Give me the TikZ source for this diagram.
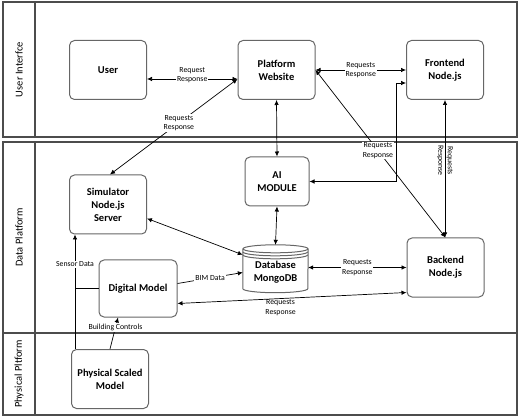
\documentclass[tikz,border=0pt]{standalone}
\usepackage{fontspec}
\setmainfont{Carlito}
\usetikzlibrary{arrows.meta}
\tikzset{
  bloc/.style={draw=black!60, line width=1pt, rounded corners=5pt, minimum width=77pt, minimum height=59pt, align=center, font=\bfseries\fontsize{10.5}{13}\selectfont},
  lien/.style={line width=0.7pt, {Latex[length=5pt,width=4.5pt]}-{Latex[length=5pt,width=4.5pt]}},
  fleche/.style={line width=0.7pt, -{Latex[length=5pt,width=4.5pt]}},
  etiq/.style={font=\fontsize{7.8}{9.5}\selectfont, align=center, fill=white, inner sep=1pt},
  couloir/.style={draw=black!70, line width=1.3pt},
  cyl/.style={draw=black!60, line width=1pt},
}
\begin{document}
\begin{tikzpicture}[x=1pt,y=-1pt]
  \useasboundingbox (0,0) rectangle (520,417);
  % couloirs
  \draw[couloir] (3,2) rectangle (517,137);
  \draw[couloir] (35,2) -- (35,137);
  \draw[couloir] (3,142) rectangle (517,415);
  \draw[couloir] (35,142) -- (35,415);
  \draw[couloir] (3,333) -- (517,333);
  \node[rotate=90, font=\fontsize{10.5}{12}\selectfont] (lui) at (19,69.5) {User Interfce};
  \node[rotate=90, font=\fontsize{10.5}{12}\selectfont] (ldata) at (19,237.5) {Data Platform};
  \node[rotate=90, font=\fontsize{10.5}{12}\selectfont] (lphys) at (19,374) {Physical Pltform};
  % blocs
  \node[bloc] (user) at (108,70) {User};
  \node[bloc] (plat) at (276.5,70) {Platform\\Website};
  \node[bloc] (front) at (445,70) {Frontend\\Node.js};
  \node[bloc] (simu) at (108,204.5) {Simulator\\Node.js\\Server};
  \node[bloc, minimum width=64pt, minimum height=49pt] (ai) at (277,181.5) {AI\\MODULE};
  \node[bloc, minimum width=78pt, minimum height=57pt] (num) at (138,288.5) {Digital Model};
  \node[bloc] (back) at (445.5,267.5) {Backend\\Node.js};
  \node[bloc] (phys) at (110,379) {Physical Scaled\\Model};
  \node[minimum width=65pt, minimum height=40pt, align=center, font=\bfseries\fontsize{10.5}{13}\selectfont] (db) at (275.5,272.5) {Database\\MongoDB};
  % cylindre
  \draw[cyl] ([yshift=3.5pt]db.north) ellipse [x radius=32.5pt, y radius=4pt];
  \draw[cyl] ([yshift=3.5pt]db.north west) -- ([yshift=4pt]db.south west) arc[start angle=180, end angle=360, x radius=32.5pt, y radius=4pt] -- ([yshift=3.5pt]db.north east);
  \draw[cyl] ([yshift=0.5pt]db.north west) arc[start angle=180, end angle=360, x radius=32.5pt, y radius=4pt];
  \draw[cyl] ([yshift=-2.5pt]db.north west) arc[start angle=180, end angle=360, x radius=32.5pt, y radius=4pt];
  % liens
  \draw[lien] ([yshift=-9pt]user.east) -- ([yshift=-9pt]plat.west) node[midway, etiq, yshift=4pt] {Request\\Response};
  \draw[lien] (plat.east) -- (front.west) node[midway, etiq] {Requests\\Response};
  \draw[lien] ([yshift=-9pt]plat.west) -- ([xshift=2pt]simu.north) node[pos=0.46, etiq] {Requests\\Response};
  \draw[lien] (plat.east) -- (back.north) node[pos=0.48, etiq] {Requests\\Response};
  \draw[lien] ([yshift=-13pt]front.west) -| ([xshift=87pt]ai.east) -- (ai.east);
  \draw[lien] (front.south) -- (front.south |- back.north) node[pos=0.44, etiq, fill=none, rotate=-90] {Requests\\Response};
  \draw[lien] (plat.south) -- (ai.north);
  \draw[lien] (ai.south) -- ([yshift=7.5pt]db.north);
  \draw[lien] ([yshift=-14pt]simu.east) -- ([yshift=-2.5pt]db.north west);
  \draw[fleche] ([yshift=5pt]num.east) -- (db.west) node[midway, etiq] {BIM Data};
  \draw[lien] (db.east |- back.west) -- (back.west) node[midway, etiq] {Requests\\Response};
  \draw[lien] ([yshift=5pt]back.south west) -- ([yshift=-15pt]num.east) node[pos=0.55, below, etiq, fill=none] {Requests\\Response};
  \coordinate (capt) at ([xshift=4pt]phys.north west);
  \draw[fleche] (capt) -- ([xshift=6pt]simu.south west) node[pos=0.74, etiq] {Sensor Data};
  \draw[line width=0.7pt] (num.west) -- (num.west -| capt);
  \draw[fleche] (phys.north) -- ([xshift=-20pt]num.south) node[pos=0.69, etiq] {Building Controls};
\end{tikzpicture}
\end{document}
